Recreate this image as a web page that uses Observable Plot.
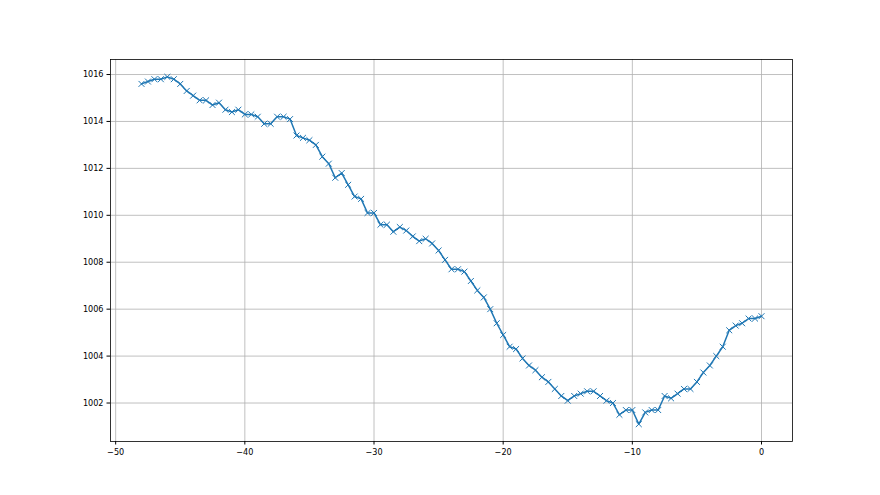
<!DOCTYPE html>
<html>
<head>
<meta charset="utf-8">
<script src="https://cdn.jsdelivr.net/npm/d3@7"></script>
<script src="https://cdn.jsdelivr.net/npm/@observablehq/plot@0.6"></script>
<style>
  html, body { margin: 0; padding: 0; background: #fff; }
  #chart svg { display: block; }
</style>
</head>
<body>
<div id="chart"></div>
<script>
// Hours relative to now (every half hour)
const hours = [
  -48, -47.5, -47, -46.5, -46, -45.5, -45, -44.5, -44, -43.5,
  -43, -42.5, -42, -41.5, -41, -40.5, -40, -39.5, -39, -38.5,
  -38, -37.5, -37, -36.5, -36, -35.5, -35, -34.5, -34, -33.5,
  -33, -32.5, -32, -31.5, -31, -30.5, -30, -29.5, -29, -28.5,
  -28, -27.5, -27, -26.5, -26, -25.5, -25, -24.5, -24, -23.5,
  -23, -22.5, -22, -21.5, -21, -20.5, -20, -19.5, -19, -18.5,
  -18, -17.5, -17, -16.5, -16, -15.5, -15, -14.5, -14, -13.5,
  -13, -12.5, -12, -11.5, -11, -10.5, -10, -9.5, -9, -8.5,
  -8, -7.5, -7, -6.5, -6, -5.5, -5, -4.5, -4, -3.5,
  -3, -2.5, -2, -1.5, -1, -0.5, 0
];
// Pressure (hPa)
const pressure = [
  1015.6, 1015.7, 1015.8, 1015.8, 1015.9, 1015.8, 1015.6, 1015.3, 1015.1, 1014.9,
  1014.9, 1014.7, 1014.8, 1014.5, 1014.4, 1014.5, 1014.3, 1014.3, 1014.2, 1013.9,
  1013.9, 1014.2, 1014.2, 1014.1, 1013.4, 1013.3, 1013.2, 1013.0, 1012.5, 1012.2,
  1011.6, 1011.8, 1011.3, 1010.8, 1010.7, 1010.1, 1010.1, 1009.6, 1009.6, 1009.3,
  1009.5, 1009.35, 1009.1, 1008.9, 1009.0, 1008.8, 1008.5, 1008.1, 1007.7, 1007.7,
  1007.6, 1007.2, 1006.8, 1006.5, 1006.0, 1005.4, 1004.9, 1004.4, 1004.3, 1003.9,
  1003.6, 1003.4, 1003.1, 1002.9, 1002.6, 1002.3, 1002.1, 1002.3, 1002.4, 1002.5,
  1002.5, 1002.3, 1002.1, 1002.0, 1001.5, 1001.7, 1001.7, 1001.1, 1001.6, 1001.7,
  1001.7, 1002.3, 1002.2, 1002.4, 1002.6, 1002.6, 1002.9, 1003.3, 1003.6, 1004.0,
  1004.4, 1005.1, 1005.3, 1005.4, 1005.6, 1005.6, 1005.7
];
const xTicks = [-50, -40, -30, -20, -10, 0];
const yTicks = [1002, 1004, 1006, 1008, 1010, 1012, 1014, 1016];

const data = hours.map((h, i) => ({h, p: pressure[i]}));

const xMin = d3.min(hours), xMax = d3.max(hours);
const yMin = d3.min(pressure), yMax = d3.max(pressure);
const xPad = (xMax - xMin) * 0.05, yPad = (yMax - yMin) * 0.05;

const chart = Plot.plot({
  width: 880,
  height: 495,
  marginLeft: 110,
  marginRight: 88,
  marginTop: 59,
  marginBottom: 54,
  style: {fontFamily: "'DejaVu Sans Condensed', 'DejaVu Sans'", fontSize: "9px", color: "#000", background: "#fff"},
  x: {domain: [xMin - xPad, xMax + xPad]},
  y: {domain: [yMin - yPad, yMax + yPad]},
  marks: [
    Plot.gridX(xTicks, {stroke: "#b0b0b0", strokeOpacity: 1, strokeWidth: 0.8}),
    Plot.gridY(yTicks, {stroke: "#b0b0b0", strokeOpacity: 1, strokeWidth: 0.8}),
    Plot.line(data, {x: "h", y: "p", stroke: "#1f77b4", strokeWidth: 1.5}),
    Plot.dot(data, {x: "h", y: "p", symbol: "times", r: 2.8, stroke: "#1f77b4", strokeWidth: 1}),
    Plot.frame({stroke: "#000", strokeWidth: 0.8}),
    Plot.axisX(xTicks, {tickSize: 3.5, tickPadding: 3.5, label: null, fontSize: 9, tickFormat: d => d3.format("d")(d)}),
    Plot.axisY(yTicks, {tickSize: 3.5, tickPadding: 3.5, label: null, fontSize: 9, tickFormat: d => String(d)})
  ]
});
document.getElementById("chart").append(chart);
</script>
</body>
</html>
